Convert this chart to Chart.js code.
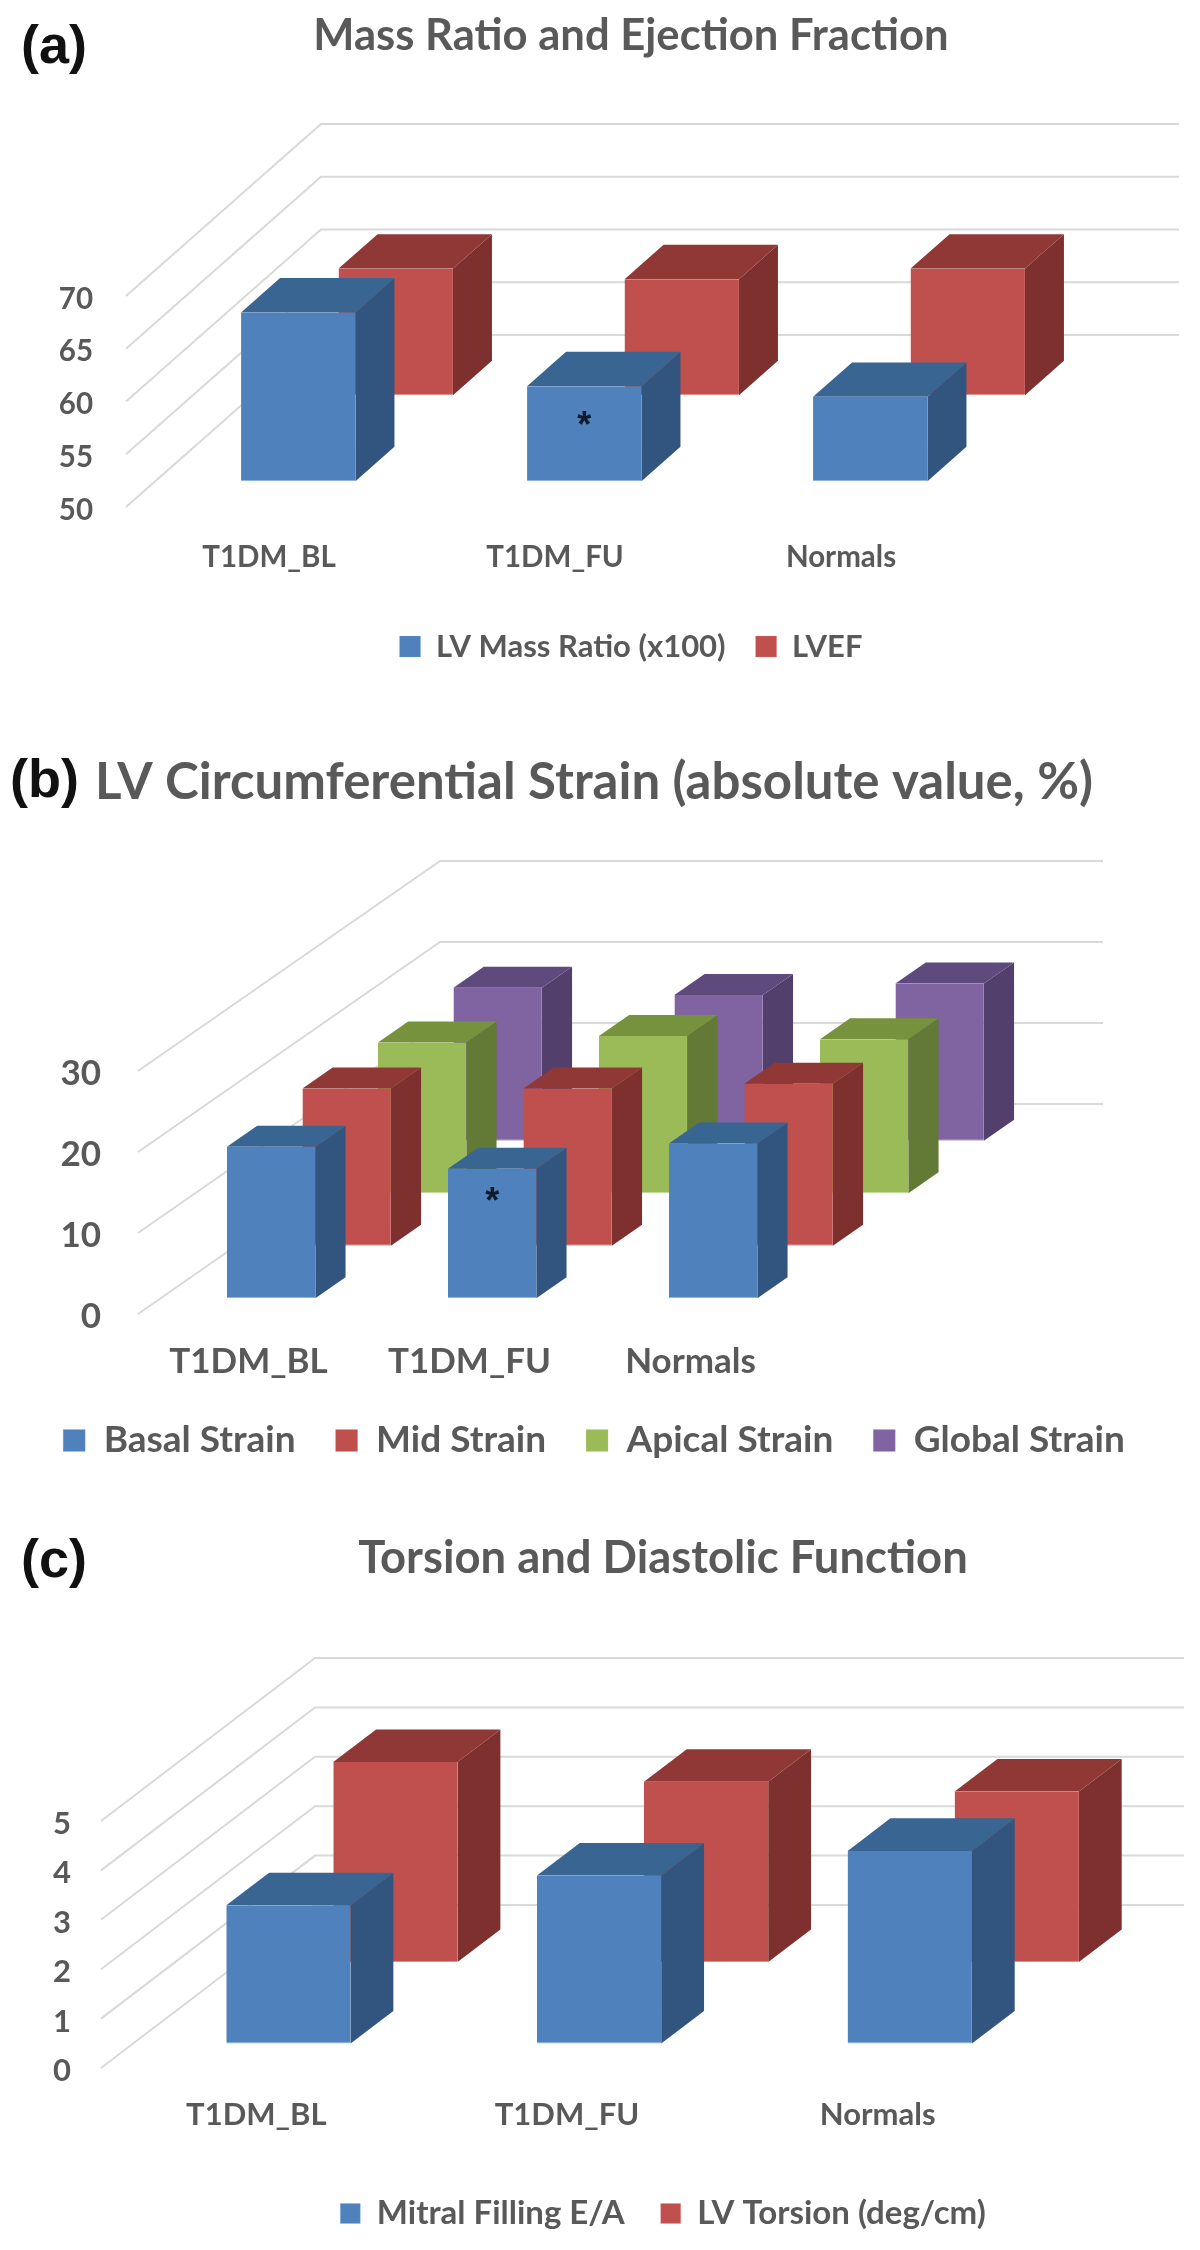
<!DOCTYPE html>
<html>
<head>
<meta charset="utf-8">
<title>Mass ratio, strain and torsion</title>
<script src="https://cdn.jsdelivr.net/npm/chart.js@4/dist/chart.umd.min.js"></script>
<style>
    html, body { margin: 0; background: #fff; }
    #page { position: relative; width: 1200px; height: 2250px; overflow: hidden; }
    #page canvas { position: absolute; left: 0; }
    .letter { position: absolute; font: bold 54px "Liberation Sans", Arial, sans-serif; color: #111; line-height: 1; }
</style>
</head>
<body>
<div id="page">
    <canvas id="chartA" width="1262" height="672" style="top:0"></canvas>
    <canvas id="chartB" width="1188" height="749" style="top:720px"></canvas>
    <canvas id="chartC" width="1326" height="740" style="top:1500px"></canvas>
    <div class="letter" style="left:21px;top:17px">(a)</div>
    <div class="letter" style="left:10px;top:751px">(b)</div>
    <div class="letter" style="left:21px;top:1531px">(c)</div>
</div>
<script>
const groups = ["T1DM_BL", "T1DM_FU", "Normals"];

const massRatio = [66, 59, 58];
const lvef = [62, 61, 62];
const massTicks = [50, 55, 60, 65, 70];

const basalStrain = [18.7, 16, 19.1];
const midStrain = [19.4, 19.4, 20];
const apicalStrain = [18.6, 19.4, 19];
const globalStrain = [18.9, 18, 19.4];
const strainTicks = [0, 10, 20, 30];

const mitralFilling = [2.8, 3.4, 3.9];
const lvTorsion = [4.05, 3.65, 3.45];
const torsionTicks = [0, 1, 2, 3, 4, 5];

// face, side, top, bottom edge
const blue = ["#4f81bd", "#31557f", "#386592", "#8db3e0"];
const red = ["#c0504d", "#7d302e", "#8f3836", "#e08f8c"];
const green = ["#9bbb59", "#627a35", "#76923c", "#c3d69b"];
const purple = ["#8064a2", "#523f6b", "#5f4a7d", "#b3a2c7"];

const textColor = "#595959";
const gridColor = "#d9d9d9";
const fontFamily = "Lato, 'Open Sans', sans-serif";

// Excel-style 3D columns: every series sits on its own row in depth
const depthPlugin = {
    id: "depth",
    beforeDatasetsDraw(chart, args, opts) {
        const { ctx, chartArea, scales } = chart;
        ctx.save();
        ctx.strokeStyle = gridColor;
        ctx.lineWidth = 2;
        opts.ticks.forEach(v => {
            const y = scales.y.getPixelForValue(v);
            ctx.beginPath();
            ctx.moveTo(chartArea.left, y);
            ctx.lineTo(chartArea.left + opts.dx, y + opts.dy);
            ctx.lineTo(opts.wallEnd || chartArea.right + opts.dx, y + opts.dy);
            ctx.stroke();
        });
        ctx.restore();
    },
    beforeDatasetDraw(chart, args, opts) {
        const { ctx } = chart;
        const rows = chart.data.datasets.length;
        const ds = chart.data.datasets[args.index];
        const start = (args.index + 0.3) / rows;
        const thick = 0.4 / rows;
        const ox = opts.dx * start, oy = opts.dy * start;
        const bx = opts.dx * thick, by = opts.dy * thick;

        ctx.save();
        ctx.translate(ox, oy);
        args.meta.data.forEach(bar => {
            const left = bar.x - bar.width / 2;
            const right = bar.x + bar.width / 2;

            ctx.fillStyle = ds.sideColor;
            ctx.beginPath();
            ctx.moveTo(right, bar.y);
            ctx.lineTo(right + bx, bar.y + by);
            ctx.lineTo(right + bx, bar.base + by);
            ctx.lineTo(right, bar.base);
            ctx.closePath();
            ctx.fill();

            ctx.fillStyle = ds.topColor;
            ctx.beginPath();
            ctx.moveTo(left, bar.y);
            ctx.lineTo(left + bx, bar.y + by);
            ctx.lineTo(right + bx, bar.y + by);
            ctx.lineTo(right, bar.y);
            ctx.closePath();
            ctx.fill();
        });
    },
    afterDatasetDraw(chart) {
        chart.ctx.restore();
    },
    afterDatasetsDraw(chart, args, opts) {
        if (!opts.star) return;
        const { ctx } = chart;
        const rows = chart.data.datasets.length;
        const start = 0.3 / rows;
        const bar = chart.getDatasetMeta(0).data[groups.indexOf(opts.star.group)];
        ctx.save();
        ctx.fillStyle = "#0d1a2b";
        ctx.font = "bold 36px 'Liberation Sans', sans-serif";
        ctx.textAlign = "center";
        ctx.textBaseline = "middle";
        ctx.fillText("*", bar.x + opts.dx * start, bar.y + opts.dy * start + opts.star.below);
        ctx.restore();
    }
};

function series(label, data, colors) {
    return {
        label: label,
        data: data,
        backgroundColor: colors[0],
        sideColor: colors[1],
        topColor: colors[2],
        borderColor: colors[3],
        borderWidth: { top: 0, right: 0, bottom: 1, left: 0 },
        borderSkipped: false,
        clip: false
    };
}

function draw3dChart(id, cfg) {
    const canvas = document.getElementById(id);
    return new Chart(canvas, {
        type: "bar",
        plugins: [depthPlugin],
        data: { labels: groups, datasets: cfg.datasets },
        options: {
            responsive: false,
            animation: false,
            grouped: false,
            base: cfg.ticks[0],
            barPercentage: 0.4,
            categoryPercentage: 1,
            layout: { padding: 0 },
            plugins: {
                title: {
                    display: true,
                    text: cfg.title,
                    color: textColor,
                    font: { family: fontFamily, size: cfg.titleSize, weight: "bold" },
                    // bottom padding pushes the plot down to the front plane
                    padding: { top: cfg.titleTop, bottom: cfg.plotTop - cfg.titleTop - cfg.titleSize * 1.2 }
                },
                legend: {
                    position: "bottom",
                    labels: {
                        color: textColor,
                        boxWidth: cfg.boxSize,
                        boxHeight: cfg.boxSize,
                        padding: cfg.legendGap,
                        font: { family: fontFamily, size: cfg.legendSize, weight: "bold" }
                    }
                },
                tooltip: { enabled: false },
                depth: { dx: cfg.dx, dy: cfg.dy, ticks: cfg.ticks, wallEnd: cfg.wallEnd, star: cfg.star }
            },
            scales: {
                x: {
                    grid: { display: false },
                    border: { display: false },
                    ticks: {
                        color: textColor,
                        padding: cfg.labelPad,
                        font: { family: fontFamily, size: cfg.labelSize, weight: "bold" }
                    },
                    afterFit: s => { s.height = canvas.height - s.chart.legend.height - cfg.plotBottom; }
                },
                y: {
                    min: cfg.ticks[0],
                    max: cfg.ticks[cfg.ticks.length - 1],
                    grid: { display: false },
                    border: { display: false },
                    afterBuildTicks: s => { s.ticks = cfg.ticks.map(v => ({ value: v })); },
                    ticks: {
                        color: textColor,
                        padding: cfg.tickPad,
                        labelOffset: 3,
                        font: { family: fontFamily, size: cfg.labelSize, weight: "bold" }
                    },
                    afterFit: s => { s.width = cfg.plotLeft; }
                },
                // empty axis, only there to leave the room right of the front plane
                spacer: {
                    position: "right",
                    grid: { display: false },
                    border: { display: false },
                    ticks: { display: false },
                    afterFit: s => { s.width = canvas.width - cfg.plotRight; }
                }
            }
        }
    });
}

draw3dChart("chartA", {
    title: "Mass Ratio and Ejection Fraction",
    datasets: [series("LV Mass Ratio (x100)", massRatio, blue), series("LVEF", lvef, red)],
    ticks: massTicks,
    plotLeft: 126, plotRight: 984, plotTop: 296, plotBottom: 507,
    dx: 195, dy: -172,
    titleSize: 43.6, titleTop: 10,
    labelSize: 29.5, labelPad: 25, tickPad: 25,
    legendSize: 31, legendGap: 30, boxSize: 21,
    star: { group: "T1DM_FU", below: 41 }
});

draw3dChart("chartB", {
    title: "LV Circumferential Strain (absolute value, %)",
    datasets: [
        series("Basal Strain", basalStrain, blue),
        series("Mid Strain", midStrain, red),
        series("Apical Strain", apicalStrain, green),
        series("Global Strain", globalStrain, purple)
    ],
    ticks: strainTicks,
    plotLeft: 138, plotRight: 801, plotTop: 351, plotBottom: 594,
    dx: 302, dy: -210,
    titleSize: 51, titleTop: 32,
    labelSize: 35, labelPad: 19, tickPad: 29,
    legendSize: 37, legendGap: 40, boxSize: 22,
    star: { group: "T1DM_FU", below: 34 }
});

draw3dChart("chartC", {
    title: "Torsion and Diastolic Function",
    datasets: [series("Mitral Filling E/A", mitralFilling, blue), series("LV Torsion (deg/cm)", lvTorsion, red)],
    ticks: torsionTicks,
    plotLeft: 101, plotRight: 1033, plotTop: 321, plotBottom: 568,
    dx: 214, dy: -163, wallEnd: 1184,
    titleSize: 45.4, titleTop: 31,
    labelSize: 31, labelPad: 20, tickPad: 22,
    legendSize: 33, legendGap: 36, boxSize: 20
});
</script>
</body>
</html>
